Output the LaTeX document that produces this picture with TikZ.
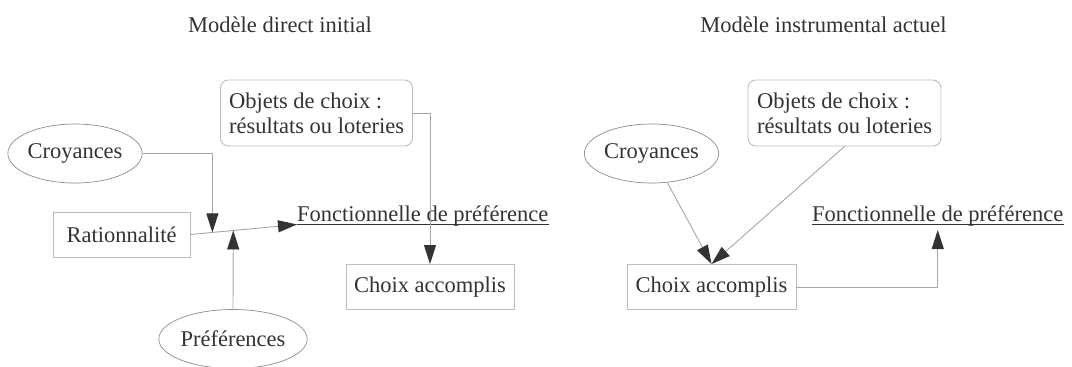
\documentclass[tikz,border=0pt]{standalone}
\usepackage{fontspec}
\setmainfont{Liberation Serif}
\usetikzlibrary{shapes.geometric,arrows.meta,calc}
\definecolor{txt}{HTML}{333333}
\definecolor{boxc}{HTML}{BDBDBD}
\definecolor{ellc}{HTML}{8C8C8C}
\definecolor{linec}{HTML}{A6A6A6}
\definecolor{headc}{HTML}{333333}
\tikzset{
  lbl/.style={font=\fontsize{22.5}{25}\selectfont, text=txt},
  rbox/.style={lbl, draw=boxc, line width=0.9pt, rectangle, minimum width=#1, minimum height=45pt, inner sep=0pt},
  obox/.style={lbl, draw=boxc, line width=0.9pt, rectangle, rounded corners=8pt, minimum width=192pt, minimum height=66pt, inner sep=0pt, align=left},
  ell/.style={lbl, draw=ellc, line width=0.7pt, ellipse, minimum width=132pt, minimum height=59pt, inner sep=0pt},
  plain/.style={lbl, inner sep=0pt},
  conn/.style={draw=linec, line width=0.9pt, -{Triangle[length=19pt,width=12pt,color=headc]}},
  ul/.style={draw=txt, line width=0.8pt}
}
\begin{document}
\begin{tikzpicture}[x=1pt,y=-1pt]
\useasboundingbox (0,0) rectangle (1072,367);
% titles
\node[plain, anchor=base] (t1) at (280,32) {Modèle direct initial};
\node[plain, anchor=base] (t2) at (823.5,32) {Modèle instrumental actuel};
% left panel
\node[obox] (objL) at (316.5,113) {Objets de choix :\\résultats ou loteries};
\node[ell] (croyL) at (75,153.5) {Croyances};
\node[rbox=137pt] (ratL) at (121.5,234.5) {Rationnalité};
\node[plain, anchor=base west] (fonL) at (297,221) {Fonctionnelle de préférence};
\draw[ul] ([yshift=-3pt]fonL.base west) -- ([yshift=-3pt]fonL.base east);
\coordinate (fLu) at ([yshift=-3.5pt]fonL.base west);
\node[ell] (prefL) at (233,339) {Préférences};
\node[rbox=168pt] (choixL) at (430,287) {Choix accomplis};
\coordinate (jc) at ($(ratL.east)!0.206!(fLu)$);
\coordinate (jp) at ($(ratL.east)!0.402!(fLu)$);
\draw[conn] (ratL.east) -- (fLu);
\draw[conn] (croyL.east) -| (jc);
\draw[conn] (prefL.north) -- (jp);
\draw[conn] (objL.east) -| (choixL.north);
% right panel
\node[ell, minimum width=131pt] (croyR) at (651.5,153.5) {Croyances};
\node[obox, minimum width=193pt] (objR) at (844.5,113) {Objets de choix :\\résultats ou loteries};
\node[rbox=169pt] (choixR) at (711.5,287) {Choix accomplis};
\node[plain, anchor=base west] (fonR) at (812,221) {Fonctionnelle de préférence};
\draw[ul] ([yshift=-3.5pt]fonR.base west) -- ([yshift=-3.5pt]fonR.base east);
\draw[conn] (croyR) -- (choixR.north);
\draw[conn] (objR.south) -- (choixR.north);
\draw[conn] (choixR.east) -| ([yshift=-9pt]fonR.base);
\end{tikzpicture}
\end{document}
